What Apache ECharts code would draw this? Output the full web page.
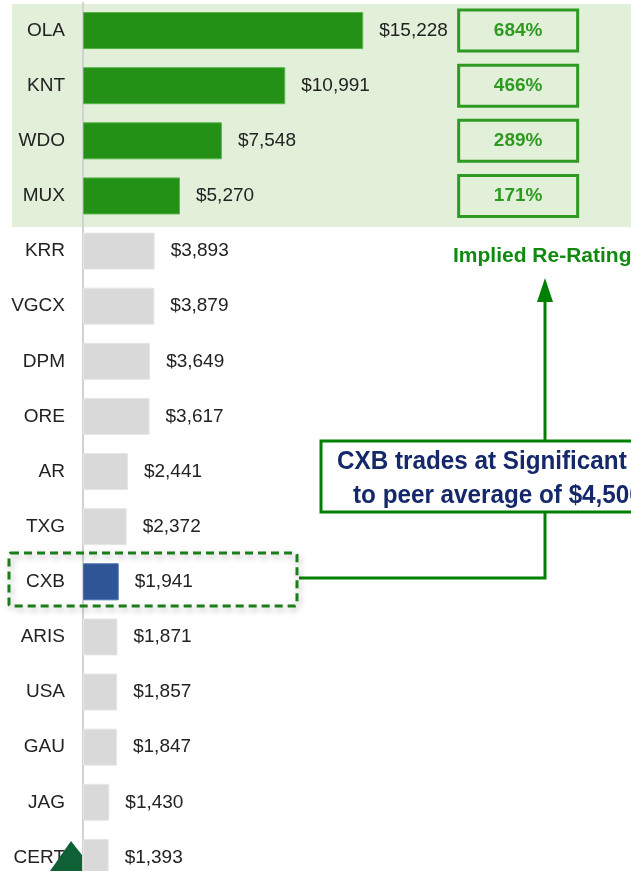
<!DOCTYPE html>
<html>
<head>
<meta charset="utf-8">
<script src="https://cdn.jsdelivr.net/npm/echarts@6/dist/echarts.min.js"></script>
<style>
html,body{margin:0;padding:0;background:#fff;}
#main{width:631px;height:871px;}
</style>
</head>
<body>
<div id="main"></div>
<script>
// tickers, top to bottom
var tickers = ['OLA','KNT','WDO','MUX','KRR','VGCX','DPM','ORE','AR','TXG','CXB','ARIS','USA','GAU','JAG','CERT'];
// EV / resource oz ($)
var values = [15228,10991,7548,5270,3893,3879,3649,3617,2441,2372,1941,1871,1857,1847,1430,1393];
// implied re-rating for the top four
var reRating = ['684%','466%','289%','171%'];
var focus = 'CXB';

var GREEN = '#229116';
var DARK = '#008000';
var FONT = '"Liberation Sans", Arial, sans-serif';

var myChart = echarts.init(document.getElementById('main'));

var barData = values.map(function (v, i) {
  var c = '#d9d9d9', b = '#e6e6e6';
  if (i < reRating.length) { c = GREEN; b = '#55b545'; }
  if (tickers[i] === focus) { c = '#2f5597'; b = '#4a6fb0'; }
  return { value: v, itemStyle: { color: c, borderColor: b, borderWidth: 1 } };
});

// box column placed at a fixed spot on the value axis
var BOX_X = 23650;
var boxData = reRating.map(function (t, i) {
  return { value: [BOX_X, tickers[i]], label: { formatter: t } };
});

var option = {
  animation: false,
  backgroundColor: '#fff',
  grid: { left: 83, top: 3, width: 552, height: 882, containLabel: false, outerBoundsMode: 'none' },
  xAxis: { type: 'value', min: 0, max: 30000, show: false },
  yAxis: {
    type: 'category',
    inverse: true,
    data: tickers,
    axisLine: { show: true, lineStyle: { color: '#d2d2d2', width: 2 } },
    axisTick: { show: false },
    axisLabel: { fontSize: 19, color: '#222', margin: 18, fontFamily: FONT }
  },
  series: [
    {
      type: 'bar',
      data: barData,
      barWidth: 37,
      z: 3,
      label: {
        show: true,
        position: 'right',
        distance: 16,
        fontSize: 19,
        color: '#222',
        fontFamily: FONT,
        formatter: function (p) { return '$' + p.value.toLocaleString('en-US'); }
      }
    },
    {
      // re-rating boxes: the label itself is the box
      type: 'scatter',
      data: boxData,
      symbolSize: 1,
      z: 4,
      itemStyle: { color: 'rgba(0,0,0,0)', opacity: 1 },
      emphasis: { disabled: true },
      label: {
        show: true,
        position: 'inside',
        width: 116,
        height: 38,
        lineHeight: 38,
        align: 'center',
        verticalAlign: 'middle',
        backgroundColor: '#e2f0d9',
        borderColor: '#2e9a21',
        borderWidth: 3,
        fontSize: 19,
        fontWeight: 'bold',
        color: '#2e9a21',
        fontFamily: FONT
      }
    }
  ],
  graphic: [
    // green panel behind the top four
    { type: 'rect', z: -10, shape: { x: 12, y: 4, width: 619, height: 223 }, style: { fill: '#e2f0d9' } },
    // implied re-rating title
    { type: 'text', z: 10, style: { text: 'Implied Re-Rating', x: 453, y: 256, textVerticalAlign: 'middle',
        font: 'bold 21px ' + FONT, fill: '#118a11' } },
    // arrow up
    { type: 'line', z: 10, shape: { x1: 545, y1: 441, x2: 545, y2: 298 }, style: { stroke: DARK, lineWidth: 3 } },
    { type: 'polygon', z: 10, shape: { points: [[545, 278], [537, 302], [553, 302]] }, style: { fill: DARK } },
    // callout box
    { type: 'rect', z: 10, shape: { x: 321, y: 441, width: 330, height: 71 }, style: { fill: '#fff', stroke: DARK, lineWidth: 3 } },
    { type: 'text', z: 11, x: 337, y: 462, scaleX: 0.97, style: { text: 'CXB trades at Significant discount', x: 0, y: 0,
        textVerticalAlign: 'middle', font: 'bold 25px ' + FONT, fill: '#14286a' } },
    { type: 'text', z: 11, x: 353, y: 496, scaleX: 0.97, style: { text: 'to peer average of $4,500/oz', x: 0, y: 0,
        textVerticalAlign: 'middle', font: 'bold 25px ' + FONT, fill: '#14286a' } },
    // connector to CXB
    { type: 'polyline', z: 10, shape: { points: [[545, 512], [545, 578], [299, 578]] }, style: { stroke: DARK, lineWidth: 3, fill: null } },
    // dashed highlight around CXB
    { type: 'rect', z: 12, shape: { x: 9, y: 553, width: 288, height: 53, r: 2 },
      style: { fill: null, stroke: '#1a7d1a', lineWidth: 3, lineDash: [8, 5],
        shadowBlur: 6, shadowColor: 'rgba(0,0,0,0.3)', shadowOffsetX: 2, shadowOffsetY: 3 } },
    // dark marker at bottom
    { type: 'polygon', z: 12, shape: { points: [[50, 871], [71, 841], [82, 855], [82, 871]] }, style: { fill: '#0d6134' } }
  ]
};

myChart.setOption(option);
</script>
</body>
</html>
